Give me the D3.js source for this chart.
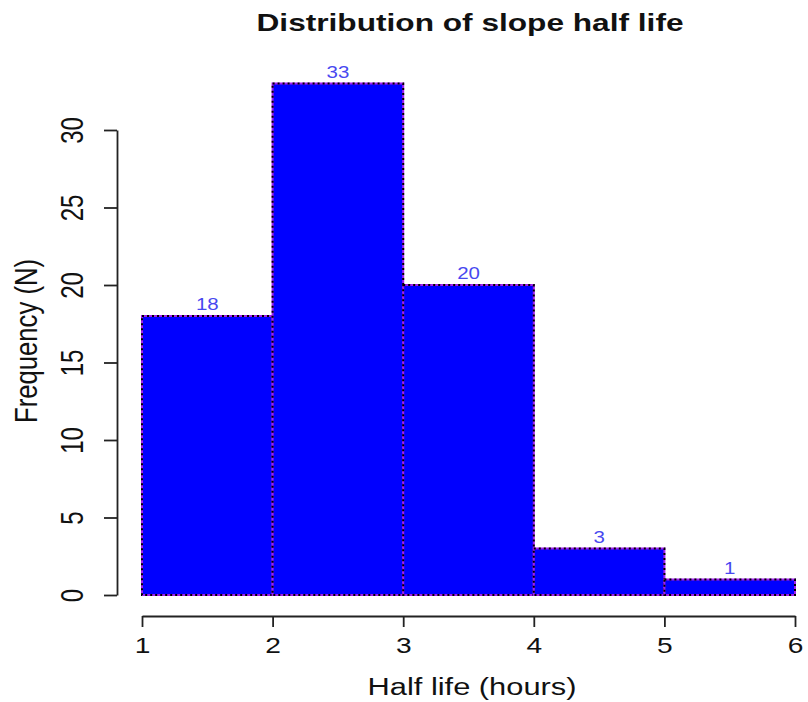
<!DOCTYPE html>
<html>
<head>
<meta charset="utf-8">
<script src="https://cdn.jsdelivr.net/npm/d3@7"></script>
<style>
  body { margin: 0; background: #fff; }
  text { font-family: "Liberation Sans", Arial, sans-serif; }
</style>
</head>
<body>
<script>
// histogram bins (hours) and counts
var binStarts = [1, 2, 3, 4, 5];
var binEnds = [2, 3, 4, 5, 6];
var counts = [18, 33, 20, 3, 1];
var xTicks = [1, 2, 3, 4, 5, 6];
var yTicks = [0, 5, 10, 15, 20, 25, 30];

var width = 808, height = 702;
var sx = 1.28; // the picture is a bit wide, stretch text to match

var svg = d3.select("body").append("svg")
  .attr("width", width)
  .attr("height", height);

// scales
var xScale = d3.scaleLinear().domain([1, 6]).range([142, 795]);
var yScale = d3.scaleLinear().domain([0, 30]).range([595, 130]);

// bars
var bars = svg.append("g");
binStarts.forEach(function (b, i) {
  var x0 = xScale(b), x1 = xScale(binEnds[i]);
  var y0 = yScale(counts[i]), y1 = yScale(0);
  bars.append("rect")
    .attr("x", x0).attr("y", y0)
    .attr("width", x1 - x0).attr("height", y1 - y0)
    .attr("fill", "#0000ff")
    .attr("stroke", "#a020f0")
    .attr("stroke-width", 2);
  bars.append("rect")
    .attr("x", x0).attr("y", y0)
    .attr("width", x1 - x0).attr("height", y1 - y0)
    .attr("fill", "none")
    .attr("stroke", "#000")
    .attr("stroke-width", 2)
    .attr("stroke-dasharray", "2,3");
  // count label above the bar
  bars.append("g")
    .attr("transform", "translate(" + (x0 + x1) / 2 + "," + (y0 - 6) + ") scale(" + sx + ",1)")
    .append("text")
    .attr("text-anchor", "middle")
    .attr("font-size", 16)
    .attr("fill", "#4848f0")
    .text(counts[i]);
});

// y axis
var yAxisGroup = svg.append("g")
  .attr("transform", "translate(117,0)")
  .call(d3.axisLeft(yScale).tickValues(yTicks).tickSize(13).tickSizeOuter(0));
yAxisGroup.selectAll("text")
  .attr("x", null).attr("dy", null)
  .attr("text-anchor", "middle")
  .attr("font-size", 24)
  .attr("fill", "#111")
  .attr("transform", "translate(-34,0) scale(" + sx + ",1) rotate(-90)");

// x axis
var xAxisGroup = svg.append("g")
  .attr("transform", "translate(0,616)")
  .call(d3.axisBottom(xScale).tickValues(xTicks).tickSize(11).tickSizeOuter(0).tickFormat(d3.format("d")));
xAxisGroup.selectAll("text")
  .attr("y", null).attr("dy", null)
  .attr("font-size", 22)
  .attr("fill", "#111")
  .attr("transform", "translate(0,37) scale(" + sx + ",1)");

svg.selectAll(".domain, .tick line")
  .attr("stroke", "#222")
  .attr("stroke-width", 1.8);

// titles
svg.append("text")
  .attr("x", 470).attr("y", 31)
  .attr("text-anchor", "middle")
  .attr("font-size", 24)
  .attr("font-weight", "bold")
  .attr("fill", "#111")
  .attr("textLength", 427)
  .attr("lengthAdjust", "spacingAndGlyphs")
  .text("Distribution of slope half life");

svg.append("text")
  .attr("x", 472).attr("y", 695)
  .attr("text-anchor", "middle")
  .attr("font-size", 23)
  .attr("fill", "#111")
  .attr("textLength", 209)
  .attr("lengthAdjust", "spacingAndGlyphs")
  .text("Half life (hours)");

svg.append("g")
  .attr("transform", "translate(37,341) scale(" + sx + ",1) rotate(-90)")
  .append("text")
  .attr("text-anchor", "middle")
  .attr("font-size", 24)
  .attr("fill", "#111")
  .attr("textLength", 164)
  .attr("lengthAdjust", "spacingAndGlyphs")
  .text("Frequency (N)");
</script>
</body>
</html>
